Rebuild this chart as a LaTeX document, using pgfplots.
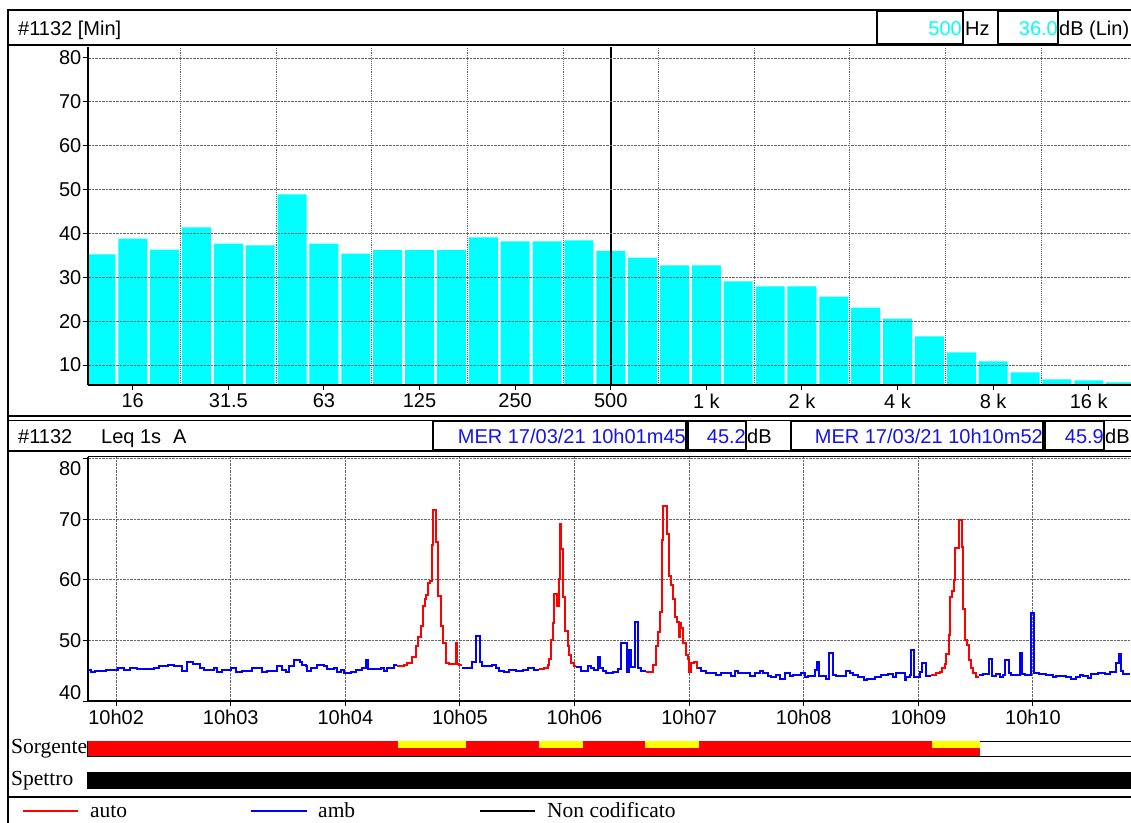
\documentclass[border=0pt]{standalone}
\usepackage{pgfplots}
\pgfplotsset{compat=1.18}
\usepackage{fontspec}
\setmainfont{Liberation Sans}
\newfontfamily\seriffont{Liberation Serif}
\definecolor{cyanbar}{RGB}{0,255,255}
\definecolor{txtblue}{RGB}{20,20,235}
\definecolor{lred}{RGB}{255,0,0}
\definecolor{lblue}{RGB}{0,0,255}
\definecolor{yel}{RGB}{255,255,0}
\newcommand{\fz}{\fontsize{20}{24}\selectfont}
\newcommand{\sz}{\seriffont\fontsize{21.5}{24}\selectfont}
\pgfplotsset{mystyle/.style={scale only axis, anchor=north west,
  axis lines*=left, axis line style={-, line width=2pt, black},
  tick align=outside, major tick length=5pt, tick style={black, line width=1pt},
  tick label style={font=\fz}, /pgf/number format/assume math mode=true,
  yticklabel style={inner sep=1pt},
  grid style={densely dotted, black!60, line width=0.9pt}}}

\pgfplotstableread{
i v
0 35.2
1 38.8
2 36.3
3 41.35
4 37.7
5 37.25
6 48.9
7 37.7
8 35.4
9 36.2
10 36.2
11 36.2
12 39.1
13 38.2
14 38.2
15 38.4
16 36.0
17 34.5
18 32.7
19 32.7
20 29.05
21 27.9
22 27.9
23 25.6
24 23.1
25 20.6
26 16.5
27 12.9
28 10.8
29 8.3
30 6.7
31 6.5
32 6.05
}\spectrum

\begin{document}
\begin{tikzpicture}[font=\fz]
\useasboundingbox (0,0) rectangle (1131pt,-822pt);
\fill[white] (0,0) rectangle (1131pt,-822pt);

% ---------- top spectrum ----------
\begin{axis}[mystyle, at={(87.5pt,-47pt)}, width=1050pt, height=338pt,
  xmin=-0.42, xmax=32.53, ymin=5.44, ymax=82.5,
  xtick={1,4,...,31}, xticklabels={16,31.5,63,125,250,500,1 k,2 k,4 k,8 k,16 k},
  ytick={10,20,...,80}, ymajorgrids,
  minor xtick={2.5,5.5,...,29.5}, xminorgrids, minor tick length=0pt,
  minor grid style={densely dotted, black!60, line width=0.9pt},
  axis on top]
\addplot[ybar, bar width=0.91, bar shift=0pt, fill=cyanbar, draw=none] table[x=i,y=v] {\spectrum};
\addplot[black, line width=2pt] coordinates {(16,5.44) (16,82.5)};
\end{axis}

% ---------- time history ----------
\begin{axis}[mystyle, at={(87.5pt,-457pt)}, width=1048pt, height=244pt,
  xmin=105, xmax=653.7, ymin=40, ymax=80.26, clip=false,
  xtick={120,180,...,600},
  xticklabels={10h02,10h03,10h04,10h05,10h06,10h07,10h08,10h09,10h10},
  ytick={40,50,...,80}, yticklabels={,50,60,70,}, grid=major]
\addplot[const plot, lblue, line width=2pt] coordinates {
(105,45.1) (107,44.8) (109,45.0) (114.5,45.1) (121,45.4) (124,45.1) (127,45.4) (131,45.2)
(140,45.4) (142.5,45.7) (145,45.8) (147,46.0) (150.5,45.7) (154.5,45.0) (157,46.5) (160,46.1)
(164,45.4) (166,45.1) (171,45.4) (173,44.8) (175.5,45.1) (180,45.4) (182.5,44.8) (186,45.0)
(191,45.4) (196.5,44.8) (199,45.0) (204,45.7) (207,45.1) (209,44.8) (210.5,45.7) (213,46.8)
(216.3,46.4) (217.5,46.0) (219.3,45.7) (220.1,45.0) (221.9,45.4) (225.4,46.0) (228.9,45.7)
(230.6,45.2) (234.1,45.4) (235.8,44.8) (237.6,45.1) (239.3,44.7) (242.8,44.8) (245.4,45.1)
(248.9,45.4) (250.7,46.8) (251.9,45.2) (258.5,45.4) (260.3,45.0) (262.0,45.4) (265.5,46.0) (267.3,46.0)};
\addplot[const plot, lred, line width=2pt] coordinates {
(267.3,45.7) (270.7,46.0) (272.5,46.2) (275.1,47.3) (276.9,49.0) (278.1,50.6) (279.5,52.3)
(280.7,55.7) (281.6,56.9) (282.4,57.5) (283.5,59.5) (284.4,59.8) (285.4,65.7) (286.1,71.5)
(287.5,66.3) (288.5,57.3) (290.0,52.4) (291.0,49.5) (292.6,46.2) (294.3,46.1) (297.8,49.5)
(298.7,46.1) (299.5,45.9) (301.3,45.9)};
\addplot[const plot, lblue, line width=2pt] coordinates {
(301.3,45.5) (306.5,46.5) (308.3,50.7) (310.5,46.5) (311.8,45.7) (317.0,46.0) (318.7,45.4)
(320.5,45.0) (323.1,44.8) (325.9,45.1) (329.4,45.0) (332.9,45.1) (335.5,45.4) (339.0,45.1) (341.6,45.1)};
\addplot[const plot, lred, line width=2pt] coordinates {
(341.6,45.2) (344.2,45.4) (346.0,46.0) (346.8,46.9) (347.7,50.1) (348.6,52.8) (349.5,57.7)
(350.7,55.7) (351.7,60.2) (352.4,69.2) (353.1,65.0) (354.2,57.2) (355.2,51.6) (356.4,49.0)
(357.3,47.6) (358.2,46.2) (359.6,45.7) (360.8,45.7)};
\addplot[const plot, lblue, line width=2pt] coordinates {
(360.8,45.6) (363.4,45.0) (366.9,45.7) (368.7,45.4) (370.4,45.1) (372.2,47.3) (373.4,45.5)
(374.8,45.0) (376.5,44.7) (380.0,44.8) (382.6,45.2) (384.4,49.6) (387.3,44.8) (388.4,48.4)
(389.8,45.6) (391.9,53.1) (393.1,45.4) (394.8,45.0) (397.5,45.0)};
\addplot[const plot, lred, line width=2pt] coordinates {
(397.5,44.8) (400.9,45.9) (402.7,49.0) (403.9,51.4) (405.0,54.7) (405.8,66.6) (406.5,72.1)
(408.5,67.6) (409.5,60.6) (410.5,59.1) (411.6,56.9) (412.6,53.9) (413.7,53.1) (414.6,50.5)
(415.3,52.9) (415.9,52.0) (416.7,49.6) (418.4,47.6) (419.3,47.0) (420.1,44.8) (421.0,46.2)
(422.8,46.5) (424.0,45.4) (424.7,45.4)};
\addplot[const plot, lblue, line width=2pt] coordinates {
(424.7,45.4) (426.3,45.0) (428.9,44.7) (431.5,44.6) (434.1,44.3) (436.9,44.6) (442.1,44.1)
(443.9,45.0) (445.6,44.7) (451.7,44.2) (454.4,44.7) (457.0,45.0) (458.7,44.7) (461.3,44.1)
(463.1,44.0) (465.7,44.3) (467.4,43.7) (470.1,44.7) (472.7,44.1) (474.4,44.3) (478.8,44.6)
(480.5,44.0) (482.3,44.1) (485.8,45.1) (487.0,46.5) (488.0,44.1) (491.9,43.7) (493.1,47.9)
(495.4,44.3) (497.1,44.1) (502.3,45.0) (504.1,44.6) (505.8,44.3) (508.5,44.0) (511.6,43.5)
(513.3,43.7) (517.2,44.0) (520.7,44.3) (524.2,44.4) (526.8,44.0) (528.5,44.6) (532.9,43.5)
(533.8,44.0) (535.5,44.3) (536.4,48.4) (537.6,44.0) (540.7,44.8) (542.0,46.2) (544.1,44.1) (546.7,44.1)};
\addplot[const plot, lred, line width=2pt] coordinates {
(546.7,44.3) (549.3,44.6) (551.1,44.8) (552.5,45.4) (553.7,46.1) (554.6,47.7) (556.0,50.9)
(556.8,57.2) (557.7,58.2) (558.6,59.9) (559.4,65.3) (561.2,69.9) (562.6,65.4) (563.3,55.1)
(564.2,50.0) (565.4,49.2) (566.4,46.8) (567.7,45.4) (568.5,44.6) (570.3,44.0) (572.0,44.0)};
\addplot[const plot, lblue, line width=2pt] coordinates {
(572.0,44.3) (573.8,44.4) (577.2,47.0) (578.5,44.1) (580.7,44.4) (582.5,43.9) (584.2,44.3)
(585.6,46.8) (587.4,44.6) (588.6,44.3) (593.0,47.9) (594.4,44.4) (595.6,44.3) (599.1,54.5)
(600.3,44.6) (603.4,44.4) (606.9,44.3) (610.4,44.0) (612.2,44.1) (617.4,43.9) (620.0,43.6)
(622.6,44.0) (624.4,44.3) (626.1,44.1) (628.7,43.8) (630.5,44.4) (634.0,44.6) (637.5,44.5)
(640.1,44.8) (643.6,46.2) (645.0,47.7) (646.2,45.0) (647.4,44.4) (651,44.4)};
\node[anchor=east, inner sep=1pt, xshift=-5pt, yshift=-10pt] at (axis cs:105,80) {80};
\node[anchor=east, inner sep=1pt, xshift=-5pt, yshift=8pt] at (axis cs:105,40) {40};
\end{axis}

% ---------- Sorgente bar ----------
\node[anchor=west, inner sep=0pt] at (11pt,-749pt) {\sz Sorgente};
\begin{axis}[scale only axis, anchor=north west, at={(87.5pt,-741pt)}, width=1048pt, height=15pt,
  xmin=105, xmax=653.7, ymin=0, ymax=1, xtick=\empty, ytick=\empty,
  axis line style={line width=1pt, black}]
\addplot[fill=lred, draw=none] coordinates {(105,0) (572.5,0) (572.5,1) (105,1)} -- cycle;
\addplot[fill=yel, draw=none] coordinates {(267.8,0.52) (303.4,0.52) (303.4,1) (267.8,1)} -- cycle;
\addplot[fill=yel, draw=none] coordinates {(341.6,0.52) (364.2,0.52) (364.2,1) (341.6,1)} -- cycle;
\addplot[fill=yel, draw=none] coordinates {(397.1,0.52) (425.4,0.52) (425.4,1) (397.1,1)} -- cycle;
\addplot[fill=yel, draw=none] coordinates {(547.4,0.52) (572.5,0.52) (572.5,1) (547.4,1)} -- cycle;
\end{axis}

% ---------- Spettro bar ----------
\node[anchor=west, inner sep=0pt] at (11pt,-781pt) {\sz Spettro};
\begin{axis}[scale only axis, anchor=north west, at={(87.5pt,-772pt)}, width=1048pt, height=16pt,
  xmin=105, xmax=653.7, ymin=0, ymax=1, xtick=\empty, ytick=\empty,
  axis line style={line width=1pt, black}]
\addplot[fill=black, draw=none] coordinates {(105,0) (653.7,0) (653.7,1) (105,1)} -- cycle;
\end{axis}

% ---------- frames ----------
\draw[line width=2.5pt] (8pt,-10pt) -- (1140pt,-10pt);
\draw[line width=2pt] (8pt,-9pt) -- (8pt,-830pt);
\draw[line width=1.5pt] (8pt,-45pt) -- (1140pt,-45pt);
\draw[line width=2pt] (8pt,-416pt) -- (1140pt,-416pt);
\draw[line width=1.5pt] (8pt,-420.5pt) -- (1140pt,-420.5pt);
\draw[line width=1.5pt] (8pt,-451pt) -- (1140pt,-451pt);
\draw[line width=0.8pt] (87.5pt,-456.5pt) -- (1140pt,-456.5pt);
\draw[line width=2pt] (8pt,-797pt) -- (1140pt,-797pt);

% top header
\node[anchor=base west, inner sep=0pt] at (18pt,-35pt) {\#1132 [Min]};
\draw[line width=1.2pt] (877pt,-11.5pt) rectangle (963pt,-44pt);
\node[anchor=base east, inner sep=0pt, text=cyanbar] at (962pt,-35pt) {500};
\node[anchor=base west, inner sep=0pt] at (965pt,-35pt) {Hz};
\draw[line width=1.2pt] (998pt,-11.5pt) rectangle (1058pt,-44pt);
\node[anchor=base east, inner sep=0pt, text=cyanbar] at (1058pt,-35pt) {36.0};
\node[anchor=base west, inner sep=0pt] at (1059pt,-35pt) {dB (Lin)};

% bottom header
\node[anchor=base west, inner sep=0pt] at (18pt,-443pt) {\#1132};
\node[anchor=base west, inner sep=0pt] at (101pt,-443pt) {Leq 1s};
\node[anchor=base west, inner sep=0pt] at (173pt,-443pt) {A};
\draw[line width=1.2pt] (433pt,-421pt) rectangle (686pt,-450pt);
\node[anchor=base east, inner sep=0pt, text=txtblue] at (686pt,-443pt) {MER 17/03/21 10h01m45};
\draw[line width=1.2pt] (688pt,-421pt) rectangle (746pt,-450pt);
\node[anchor=base east, inner sep=0pt, text=txtblue] at (746pt,-443pt) {45.2};
\node[anchor=base west, inner sep=0pt] at (747pt,-443pt) {dB};
\draw[line width=1.2pt] (791pt,-421pt) rectangle (1043pt,-450pt);
\node[anchor=base east, inner sep=0pt, text=txtblue] at (1043pt,-443pt) {MER 17/03/21 10h10m52};
\draw[line width=1.2pt] (1045pt,-421pt) rectangle (1104pt,-450pt);
\node[anchor=base east, inner sep=0pt, text=txtblue] at (1104pt,-443pt) {45.9};
\node[anchor=base west, inner sep=0pt] at (1105pt,-443pt) {dB};

% legend
\draw[lred, line width=1.6pt] (23pt,-811pt) -- (78pt,-811pt);
\node[anchor=base west, inner sep=0pt] at (90pt,-817pt) {\sz auto};
\draw[lblue, line width=1.6pt] (251pt,-811pt) -- (307pt,-811pt);
\node[anchor=base west, inner sep=0pt] at (318pt,-817pt) {\sz amb};
\draw[black, line width=1.6pt] (480pt,-811pt) -- (535pt,-811pt);
\node[anchor=base west, inner sep=0pt] at (547pt,-817pt) {\sz Non codificato};
\end{tikzpicture}
\end{document}
